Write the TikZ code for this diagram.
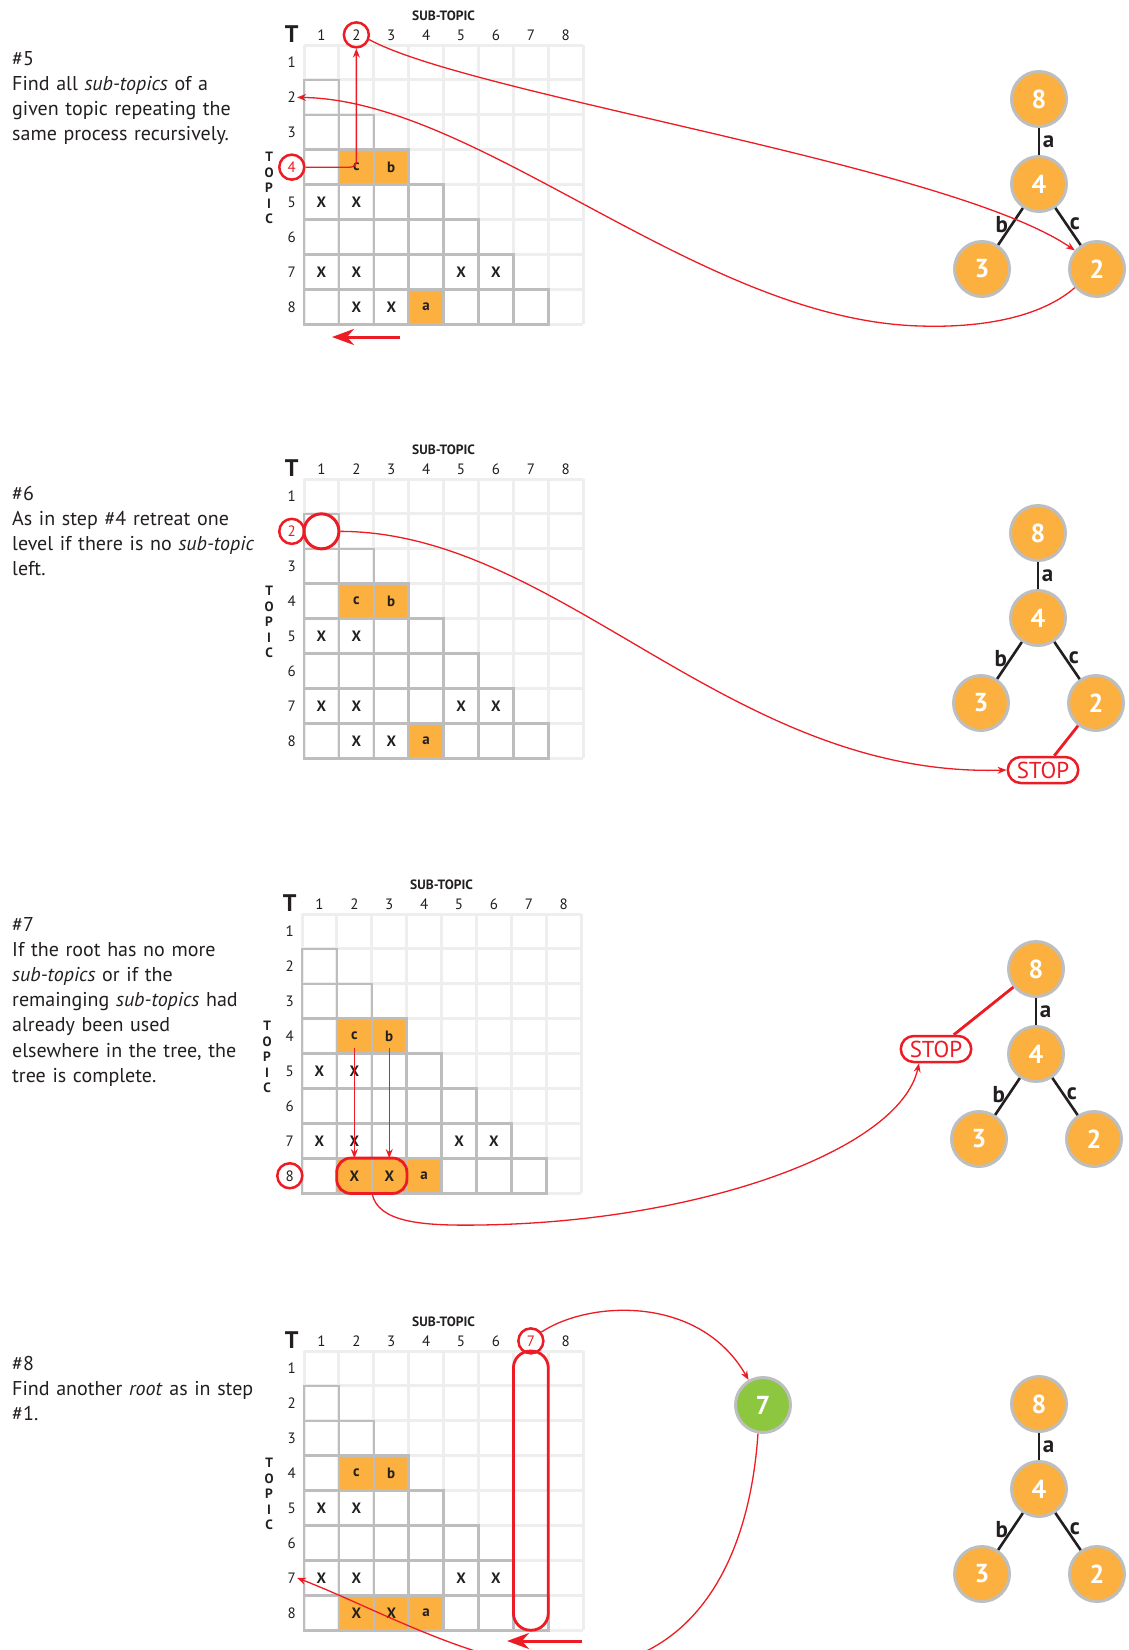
\documentclass[tikz,border=0pt]{standalone}
\usepackage{fontspec}
\setmainfont{PT Sans}
\usetikzlibrary{arrows.meta,calc}

\definecolor{tagorange}{HTML}{FBB040}
\definecolor{leafgreen}{HTML}{8DC63F}
\definecolor{markred}{HTML}{ED1C24}
\definecolor{gridlight}{HTML}{EEEEEE}
\definecolor{gridgrey}{HTML}{BDBDBD}
\definecolor{ringgrey}{HTML}{BCBEC0}
\definecolor{inkblack}{HTML}{231F20}

\tikzset{
  lightline/.style={draw=gridlight, line width=3pt},
  stairline/.style={draw=gridgrey, line width=2.6pt},
  hdr/.style={font=\fontsize{15}{17}\selectfont, inner sep=1pt},
  cellmark/.style={font=\bfseries\fontsize{15}{17}\selectfont, text=inkblack,
    minimum size=34.9pt, inner sep=0pt},
  treenode/.style={circle, fill=tagorange, draw=ringgrey, line width=3pt,
    minimum size=55pt, inner sep=0pt, text=white,
    font=\bfseries\fontsize{26}{26}\selectfont},
  treeedge/.style={draw=inkblack, line width=2.6pt},
  edgelbl/.style={font=\bfseries\fontsize{23}{23}\selectfont, text=inkblack, inner sep=2.5pt},
  redthin/.style={draw=markred, line width=1.3pt},
  redthick/.style={draw=markred, line width=2.8pt},
  tipsmall/.style={-{Stealth[length=9pt, width=7pt]}},
  bigarrow/.style={draw=markred, line width=3pt,
    -{Stealth[length=22pt, width=16pt, inset=7pt]}},
  ring/.style={circle, draw=markred, line width=2.5pt, minimum size=25pt, inner sep=0pt},
  stopbox/.style={rectangle, rounded corners=13pt, draw=markred, line width=2.5pt,
    text=markred, font=\fontsize{23}{23}\selectfont, minimum height=26pt,
    inner xsep=9pt, inner ysep=0pt},
  stepnote/.style={anchor=base west, text width=300pt, align=left, inner sep=0pt,
    text=inkblack, font=\fontsize{20}{25.2}\selectfont}
}

% Topic / sub-topic matrix.
% #1,#2 top-left corner, #3 name prefix, #4 red row label, #5 red column label,
% #6 y when the used cells of row 8 are filled
\newcommand\topicpanel[6]{%
\begin{scope}[shift={(#1,#2)}, x=34.9pt, y=-34.9pt]
  \foreach \i in {0,...,8} {
    \draw[lightline] (\i,0) -- (\i,8);
    \draw[lightline] (0,\i) -- (8,\i);
  }
  \fill[tagorange] (1,3) rectangle (3,4);
  \fill[tagorange] (3,7) rectangle (4,8);
  \ifx#6y\fill[tagorange] (1,7) rectangle (3,8);\fi
  \foreach \r in {2,...,8} {
    \pgfmathtruncatemacro\lastc{\r-1}
    \foreach \c in {1,...,\lastc}
      \draw[stairline] (\c-1,\r-1) rectangle (\c,\r);
  }
  \foreach \c in {1,...,8} {
    \ifnum\c=#5 \def\hc{markred}\else\def\hc{inkblack}\fi
    \node[hdr, text=\hc] (#3-c\c) at (\c-0.5,-0.29) {\c};
    \coordinate (#3-top\c) at (\c-1,0);
    \coordinate (#3-bot\c) at (\c,8);
  }
  \foreach \r in {1,...,8} {
    \ifnum\r=#4 \def\hc{markred}\else\def\hc{inkblack}\fi
    \node[hdr, text=\hc] (#3-r\r) at (-0.35,\r-0.5) {\r};
  }
  \node[font=\bfseries\fontsize{24}{24}\selectfont, text=inkblack] (#3-T) at (-0.35,-0.3) {T};
  \node[font=\bfseries\fontsize{13.5}{13.5}\selectfont, text=inkblack] (#3-sub) at (4,-0.84) {SUB-TOPIC};
  \node[font=\bfseries\fontsize{13.5}{15.4}\selectfont, text=inkblack, align=center,
    inner sep=0pt] (#3-topic) at (-1.0,4.1) {T\\O\\P\\I\\C};
  \node[cellmark] (#3-m42) at (1.5,3.5) {c};
  \node[cellmark] (#3-m43) at (2.5,3.5) {b};
  \node[cellmark] (#3-m84) at (3.5,7.5) {a};
  \node[cellmark] (#3-m51) at (0.5,4.5) {X};
  \node[cellmark] (#3-m52) at (1.5,4.5) {X};
  \node[cellmark] (#3-m71) at (0.5,6.5) {X};
  \node[cellmark] (#3-m72) at (1.5,6.5) {X};
  \node[cellmark] (#3-m75) at (4.5,6.5) {X};
  \node[cellmark] (#3-m76) at (5.5,6.5) {X};
  \node[cellmark] (#3-m82) at (1.5,7.5) {X};
  \node[cellmark] (#3-m83) at (2.5,7.5) {X};
\end{scope}}

% Tree built so far: root 8, child 4, leaves 3 and 2
\newcommand\topictree[3]{%
\begin{scope}[shift={(#1,#2)}]
  \node[treenode] (#3-8) at (0,0) {8};
  \node[treenode] (#3-4) at (0,85) {4};
  \node[treenode] (#3-3) at (-57,170) {3};
  \node[treenode] (#3-2) at (58,170) {2};
  \draw[treeedge] (#3-8) -- node[edgelbl, right] (#3-la) {a} (#3-4);
  \draw[treeedge] (#3-4) -- node[edgelbl, left, pos=0.45] (#3-lb) {b} (#3-3);
  \draw[treeedge] (#3-4) -- node[edgelbl, right, pos=0.42] (#3-lc) {c} (#3-2);
\end{scope}}

\begin{document}
\begin{tikzpicture}[x=1pt, y=-1pt]
\useasboundingbox (0,0) rectangle (1128,1650);
\fill[white] (0,0) rectangle (1128,1650);
\clip (0,0) rectangle (1128,1650);

% ---------- step 5 ----------
\node[stepnote] (note5) at (12,65) {\#5\\Find all \textit{sub-topics} of a\\given topic repeating the\\same process recursively.};
\topicpanel{304}{45}{A}{4}{0}{n}
\topictree{1039}{99}{T1}
\node[ring] (A-ringc2) at (A-c2) {};
\node[ring] (A-ringr4) at (A-r4) {};
\draw[redthin, tipsmall, rounded corners=6pt] (A-ringr4.east) -| (A-ringc2.south);
\draw[redthin, tipsmall] (A-ringc2.-20) .. controls (470,95) and (950,165) .. (T1-2.140);
\draw[redthin, tipsmall] (T1-2.220) .. controls (1040,318) and (980,328) .. (920,326)
  .. controls (700,320) and (480,100) .. (A-r2.east);
\coordinate (A-back1) at (400,337);
\coordinate (A-back2) at (332,337);
\draw[bigarrow] (A-back1) -- (A-back2);

% ---------- step 6 ----------
\node[stepnote] (note6) at (12,500) {\#6\\As in step \#4 retreat one\\level if there is no \textit{sub-topic}\\left.};
\topicpanel{304}{479}{B}{2}{0}{n}
\topictree{1038}{533}{T2}
\node[ring] (B-ringr2) at (B-r2) {};
\node[circle, draw=markred, line width=3pt, minimum size=35pt] (B-cell) at (B-r2 -| B-c1) {};
\node[stopbox] (B-stop) at (1043,770) {STOP};
\draw[redthick] (T2-2) -- (B-stop);
\draw[redthin, tipsmall] (B-cell.east) .. controls (560,532) and (730,778) .. (B-stop.west);

% ---------- step 7 ----------
\node[stepnote] (note7) at (12,931) {\#7\\If the root has no more\\\textit{sub-topics} or if the\\remainging \textit{sub-topics} had\\already been used\\elsewhere in the tree, the\\tree is complete.};
\topicpanel{302}{914}{C}{0}{0}{y}
\topictree{1036}{969}{T3}
\node[ring] (C-ringr8) at (C-r8) {};
\draw[redthin, tipsmall, shorten <=12pt] (C-m42.center) -- (C-m82.north);
\draw[redthin, tipsmall, shorten <=12pt] (C-m43.center) -- (C-m83.north);
\draw[redthick, rounded corners=14pt] (C-m82.north west) rectangle (C-m83.south east);
\node[stopbox] (C-stop) at (936,1049) {STOP};
\draw[redthick] (T3-8) -- (C-stop);
\draw[redthin, tipsmall] (C-m82.south east) .. controls (378,1222) and (420,1226) .. (480,1225)
  .. controls (700,1222) and (900,1150) .. (C-stop.220);

% ---------- step 8 ----------
\node[stepnote] (note8) at (12,1370) {\#8\\Find another \textit{root} as in step\\\#1.};
\topicpanel{304}{1351}{D}{0}{7}{y}
\topictree{1039}{1404}{T4}
\node[ring] (D-ringc7) at (D-c7) {};
\draw[redthick, rounded corners=17pt] (D-top7) rectangle (D-bot7);
\node[treenode, fill=leafgreen] (G7) at (763,1405) {7};
\draw[redthin, tipsmall] (D-ringc7.40) .. controls (590,1300) and (700,1295) .. (G7.120);
\draw[redthin, tipsmall] (G7.260) .. controls (748,1580) and (680,1668) .. (570,1668)
  .. controls (480,1668) and (380,1610) .. (D-r7.east);
\coordinate (D-back1) at (582,1641);
\coordinate (D-back2) at (507,1641);
\draw[bigarrow] (D-back1) -- (D-back2);
\end{tikzpicture}
\end{document}
